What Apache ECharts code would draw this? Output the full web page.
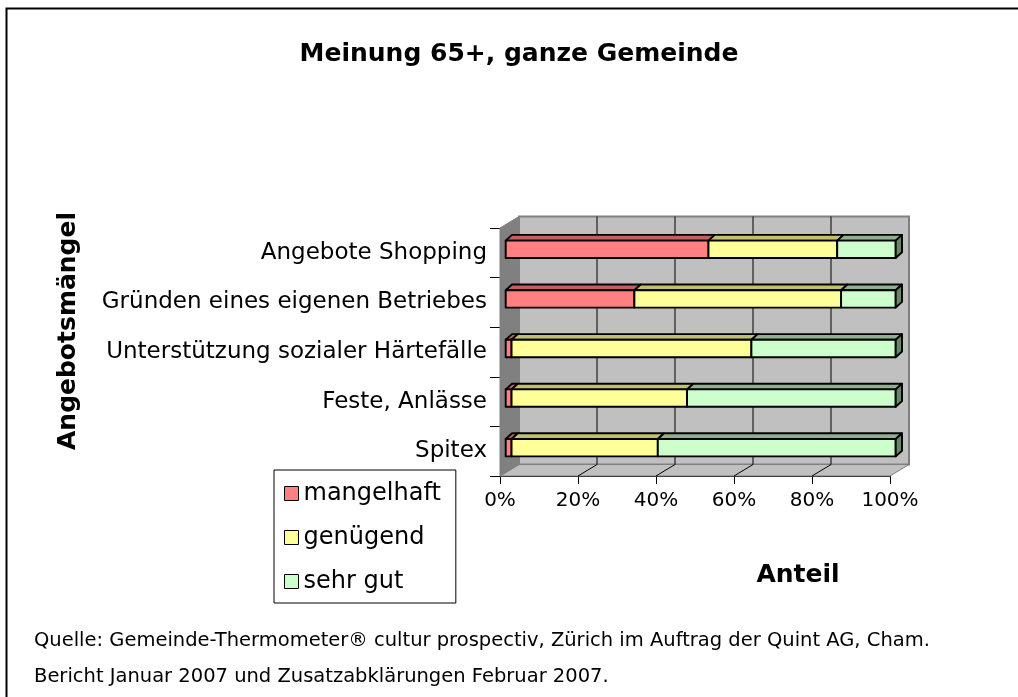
<!DOCTYPE html>
<html>
<head>
<meta charset="utf-8">
<script src="https://cdn.jsdelivr.net/npm/echarts@6/dist/echarts.min.js"></script>
<style>
html,body{margin:0;padding:0;background:#fff;}
#chart{width:1018px;height:697px;}
</style>
</head>
<body>
<div id="chart"></div>
<script>
// ---- data ----
const categories = ['Angebote Shopping', 'Gründen eines eigenen Betriebes', 'Unterstützung sozialer Härtefälle', 'Feste, Anlässe', 'Spitex'];
const seriesNames = ['mangelhaft', 'genügend', 'sehr gut'];
const mangelhaft = [52, 33, 1.5, 1.5, 1.5];
const genuegend = [33, 53, 61.5, 45, 37.5];
const sehrGut = [15, 14, 37, 53.5, 61];
const xTicks = [0, 20, 40, 60, 80, 100];

// ---- styles ----
const FONT = 'DejaVu Sans';
const faceColors = ['#FF8080', '#FFFF99', '#CCFFCC'];
const topColors = ['#C06060', '#C0C070', '#90B090'];
const sideColors = ['#A05050', '#A0A060', '#668866'];
const DX = 19, DY = -11.5;        // box depth
const FX = 5.7, FY = -3.5;        // bar face offset from front plane
const BX = 6.3, BY = -5.7;        // bar depth

const valueSets = [mangelhaft, genuegend, sehrGut];
const stacked = [];
const cum = categories.map(() => 0);
valueSets.forEach((vals, si) => {
  stacked.push(vals.map((v, i) => { const s = cum[i]; cum[i] += v; return [i, s, cum[i]]; }));
});

const chart = echarts.init(document.getElementById('chart'), null, {renderer: 'canvas'});

function renderWalls(params, api) {
  const cs = params.coordSys;
  const x0 = cs.x, y0 = cs.y, w = cs.width, h = cs.height;
  const children = [];
  children.push({type: 'polygon', shape: {points: [[x0 + DX, y0 + DY], [x0 + w + DX, y0 + DY], [x0 + w + DX, y0 + h + DY], [x0 + DX, y0 + h + DY]]},
    style: {fill: '#C0C0C0', stroke: '#808080', lineWidth: 2}});
  children.push({type: 'polygon', shape: {points: [[x0, y0 + h], [x0 + w, y0 + h], [x0 + w + DX, y0 + h + DY], [x0 + DX, y0 + h + DY]]},
    style: {fill: '#C0C0C0', stroke: '#808080', lineWidth: 1}});
  children.push({type: 'polygon', shape: {points: [[x0, y0], [x0 + DX, y0 + DY], [x0 + DX, y0 + h + DY], [x0, y0 + h]]},
    style: {fill: '#808080', stroke: '#808080', lineWidth: 1}});
  xTicks.forEach(v => {
    if (v === 0 || v === 100) return;
    const x = api.coord([v, 0])[0];
    children.push({type: 'line', shape: {x1: x + DX, y1: y0 + DY, x2: x + DX, y2: y0 + h + DY}, style: {stroke: '#000', lineWidth: 1}});
    children.push({type: 'line', shape: {x1: x, y1: y0 + h, x2: x + DX, y2: y0 + h + DY}, style: {stroke: '#000', lineWidth: 1}});
  });
  return {type: 'group', children: children};
}

function makeBarRenderer(si) {
  return function (params, api) {
    const cat = api.value(0), s = api.value(1), e = api.value(2);
    const a = api.coord([s, cat]), b = api.coord([e, cat]);
    const bh = api.size([0, 1])[1] * 0.35;
    const xa = a[0] + FX, xb = b[0] + FX;
    const yc = a[1] + FY;
    const yt = yc - bh / 2, yb = yc + bh / 2;
    const st = {stroke: '#000', lineWidth: 1.9, lineJoin: 'round'};
    const children = [
      {type: 'polygon', shape: {points: [[xa, yt], [xb, yt], [xb + BX, yt + BY], [xa + BX, yt + BY]]}, style: Object.assign({fill: topColors[si]}, st)},
      {type: 'rect', shape: {x: xa, y: yt, width: xb - xa, height: yb - yt}, style: Object.assign({fill: faceColors[si]}, st)}
    ];
    if (si === valueSets.length - 1) {
      children.push({type: 'polygon', shape: {points: [[xb, yt], [xb + BX, yt + BY], [xb + BX, yb + BY], [xb, yb]]}, style: Object.assign({fill: sideColors[si]}, st)});
    }
    return {type: 'group', children: children};
  };
}

const series = [{
  type: 'custom', name: '_walls', silent: true, clip: false, z: 1,
  renderItem: renderWalls, data: [[0, 0]], encode: {x: 0, y: 1}
}];
seriesNames.forEach((n, si) => {
  series.push({
    type: 'custom', name: n, clip: false, z: 3,
    itemStyle: {color: faceColors[si], borderColor: '#000', borderWidth: 1},
    renderItem: makeBarRenderer(si),
    data: stacked[si], encode: {x: [1, 2], y: 0}
  });
});

const option = {
  animation: false,
  backgroundColor: '#fff',
  textStyle: {fontFamily: FONT},
  title: {
    text: 'Meinung 65+, ganze Gemeinde', left: 514, top: 37, textAlign: 'center',
    textStyle: {fontFamily: FONT, fontSize: 25, fontWeight: 'bold', color: '#000'}
  },
  legend: {
    orient: 'vertical', left: 274, top: 470,
    padding: [10, 15, 8, 10],
    borderColor: '#000', borderWidth: 1,
    itemWidth: 14, itemHeight: 14, itemGap: 17,
    icon: 'rect',
    textStyle: {fontFamily: FONT, fontSize: 24, color: '#000', lineHeight: 27},
    data: seriesNames.map((n, si) => ({name: n, itemStyle: {color: faceColors[si], borderColor: '#000', borderWidth: 1}}))
  },
  grid: {left: 500, right: 128, top: 228, bottom: 221, containLabel: false},
  xAxis: {
    type: 'value', min: 0, max: 100, interval: 20,
    axisLine: {show: true, lineStyle: {color: '#000', width: 1}},
    axisTick: {show: true, length: 8, lineStyle: {color: '#000'}},
    splitLine: {show: false},
    axisLabel: {formatter: '{value}%', fontFamily: FONT, fontSize: 20, color: '#000', margin: 15}
  },
  yAxis: {
    type: 'category', data: categories, inverse: true,
    axisLine: {show: true, lineStyle: {color: '#000', width: 1}},
    axisTick: {show: true, length: 10, lineStyle: {color: '#000'}},
    splitLine: {show: false},
    axisLabel: {fontFamily: FONT, fontSize: 23, color: '#000', margin: 13}
  },
  graphic: [
    {type: 'rect', shape: {x: 6.5, y: 8.5, width: 1030, height: 720}, style: {fill: null, stroke: '#000', lineWidth: 2}, z: 0, silent: true},
    {type: 'text', x: 68, y: 331, rotation: Math.PI / 2, style: {text: 'Angebotsmängel', fontFamily: FONT, fontSize: 25, fontWeight: 'bold', fill: '#000', align: 'center', verticalAlign: 'middle'}},
    {type: 'text', x: 798, y: 575, style: {text: 'Anteil', fontFamily: FONT, fontSize: 25, fontWeight: 'bold', fill: '#000', align: 'center', verticalAlign: 'middle'}},
    {type: 'text', x: 34, y: 641, style: {text: 'Quelle: Gemeinde-Thermometer® cultur prospectiv, Zürich im Auftrag der Quint AG, Cham.', fontFamily: FONT, fontSize: 19.5, fill: '#000', align: 'left', verticalAlign: 'middle'}},
    {type: 'text', x: 34, y: 677, style: {text: 'Bericht Januar 2007 und Zusatzabklärungen Februar 2007.', fontFamily: FONT, fontSize: 19.5, fill: '#000', align: 'left', verticalAlign: 'middle'}}
  ],
  series: series
};
chart.setOption(option);
</script>
</body>
</html>
